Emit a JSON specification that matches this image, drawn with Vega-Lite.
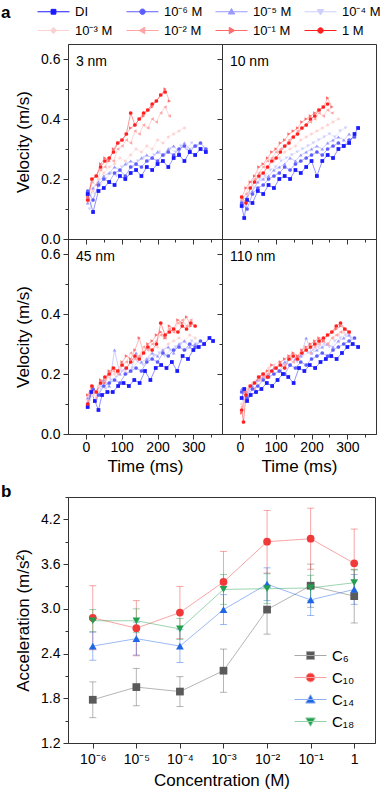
{
"$schema":"https://vega.github.io/schema/vega-lite/v6.json",
"background":"white",
"padding":{"left":0,"top":2,"right":0,"bottom":0},
"config":{"font":"Liberation Sans","view":{"stroke":"#333","strokeWidth":1},
"axis":{"grid":false,"domainColor":"#333","tickColor":"#333","labelColor":"#000","titleColor":"#000","labelFontSize":14,"titleFontSize":17,"titleFontWeight":"normal","tickSize":5},
"legend":{"labelColor":"#000"}},
"spacing":7,
"resolve":{"scale":{"color":"independent","shape":"independent","fill":"independent","stroke":"independent","x":"independent","y":"independent"}},
"datasets":{
"vel":[
{"n":"3 nm","s":"10⁻⁴ M","t":10,"v":0.10},{"n":"3 nm","s":"10⁻⁴ M","t":25,"v":0.15},{"n":"3 nm","s":"10⁻⁴ M","t":40,"v":0.18},{"n":"3 nm","s":"10⁻⁴ M","t":55,"v":0.20},{"n":"3 nm","s":"10⁻⁴ M","t":70,"v":0.22},{"n":"3 nm","s":"10⁻⁴ M","t":85,"v":0.21},{"n":"3 nm","s":"10⁻⁴ M","t":100,"v":0.24},{"n":"3 nm","s":"10⁻⁴ M","t":115,"v":0.25},{"n":"3 nm","s":"10⁻⁴ M","t":130,"v":0.24},{"n":"3 nm","s":"10⁻⁴ M","t":145,"v":0.26},{"n":"3 nm","s":"10⁻⁴ M","t":160,"v":0.27},{"n":"3 nm","s":"10⁻⁴ M","t":175,"v":0.26},{"n":"3 nm","s":"10⁻⁴ M","t":190,"v":0.28},{"n":"3 nm","s":"10⁻⁴ M","t":205,"v":0.29},{"n":"3 nm","s":"10⁻⁴ M","t":220,"v":0.28},{"n":"3 nm","s":"10⁻⁴ M","t":235,"v":0.30},{"n":"3 nm","s":"10⁻⁴ M","t":250,"v":0.29},{"n":"3 nm","s":"10⁻⁴ M","t":265,"v":0.31},{"n":"3 nm","s":"10⁻⁴ M","t":280,"v":0.30},{"n":"3 nm","s":"10⁻⁴ M","t":295,"v":0.32},{"n":"3 nm","s":"10⁻⁴ M","t":310,"v":0.31},{"n":"3 nm","s":"10⁻⁴ M","t":325,"v":0.30},
{"n":"3 nm","s":"10⁻³ M","t":5,"v":0.12},{"n":"3 nm","s":"10⁻³ M","t":20,"v":0.16},{"n":"3 nm","s":"10⁻³ M","t":35,"v":0.20},{"n":"3 nm","s":"10⁻³ M","t":50,"v":0.22},{"n":"3 nm","s":"10⁻³ M","t":65,"v":0.24},{"n":"3 nm","s":"10⁻³ M","t":80,"v":0.25},{"n":"3 nm","s":"10⁻³ M","t":95,"v":0.27},{"n":"3 nm","s":"10⁻³ M","t":110,"v":0.26},{"n":"3 nm","s":"10⁻³ M","t":125,"v":0.28},{"n":"3 nm","s":"10⁻³ M","t":140,"v":0.30},{"n":"3 nm","s":"10⁻³ M","t":155,"v":0.29},{"n":"3 nm","s":"10⁻³ M","t":170,"v":0.31},{"n":"3 nm","s":"10⁻³ M","t":185,"v":0.30},{"n":"3 nm","s":"10⁻³ M","t":200,"v":0.33},{"n":"3 nm","s":"10⁻³ M","t":215,"v":0.32},{"n":"3 nm","s":"10⁻³ M","t":230,"v":0.34},{"n":"3 nm","s":"10⁻³ M","t":245,"v":0.35},{"n":"3 nm","s":"10⁻³ M","t":260,"v":0.36},{"n":"3 nm","s":"10⁻³ M","t":275,"v":0.37},
{"n":"3 nm","s":"10⁻⁵ M","t":5,"v":0.12},{"n":"3 nm","s":"10⁻⁵ M","t":20,"v":0.17},{"n":"3 nm","s":"10⁻⁵ M","t":35,"v":0.19},{"n":"3 nm","s":"10⁻⁵ M","t":50,"v":0.21},{"n":"3 nm","s":"10⁻⁵ M","t":65,"v":0.22},{"n":"3 nm","s":"10⁻⁵ M","t":80,"v":0.24},{"n":"3 nm","s":"10⁻⁵ M","t":95,"v":0.23},{"n":"3 nm","s":"10⁻⁵ M","t":110,"v":0.25},{"n":"3 nm","s":"10⁻⁵ M","t":125,"v":0.26},{"n":"3 nm","s":"10⁻⁵ M","t":140,"v":0.25},{"n":"3 nm","s":"10⁻⁵ M","t":155,"v":0.27},{"n":"3 nm","s":"10⁻⁵ M","t":170,"v":0.28},{"n":"3 nm","s":"10⁻⁵ M","t":185,"v":0.27},{"n":"3 nm","s":"10⁻⁵ M","t":200,"v":0.29},{"n":"3 nm","s":"10⁻⁵ M","t":215,"v":0.28},{"n":"3 nm","s":"10⁻⁵ M","t":230,"v":0.30},{"n":"3 nm","s":"10⁻⁵ M","t":245,"v":0.31},{"n":"3 nm","s":"10⁻⁵ M","t":260,"v":0.29},{"n":"3 nm","s":"10⁻⁵ M","t":275,"v":0.32},{"n":"3 nm","s":"10⁻⁵ M","t":290,"v":0.30},{"n":"3 nm","s":"10⁻⁵ M","t":305,"v":0.31},
{"n":"3 nm","s":"10⁻² M","t":5,"v":0.13},{"n":"3 nm","s":"10⁻² M","t":17,"v":0.19},{"n":"3 nm","s":"10⁻² M","t":29,"v":0.18},{"n":"3 nm","s":"10⁻² M","t":41,"v":0.23},{"n":"3 nm","s":"10⁻² M","t":53,"v":0.24},{"n":"3 nm","s":"10⁻² M","t":65,"v":0.27},{"n":"3 nm","s":"10⁻² M","t":77,"v":0.26},{"n":"3 nm","s":"10⁻² M","t":89,"v":0.30},{"n":"3 nm","s":"10⁻² M","t":101,"v":0.31},{"n":"3 nm","s":"10⁻² M","t":113,"v":0.33},{"n":"3 nm","s":"10⁻² M","t":125,"v":0.32},{"n":"3 nm","s":"10⁻² M","t":137,"v":0.36},{"n":"3 nm","s":"10⁻² M","t":149,"v":0.35},{"n":"3 nm","s":"10⁻² M","t":161,"v":0.38},{"n":"3 nm","s":"10⁻² M","t":173,"v":0.37},{"n":"3 nm","s":"10⁻² M","t":185,"v":0.40},{"n":"3 nm","s":"10⁻² M","t":197,"v":0.39},{"n":"3 nm","s":"10⁻² M","t":209,"v":0.42},{"n":"3 nm","s":"10⁻² M","t":221,"v":0.44},{"n":"3 nm","s":"10⁻² M","t":233,"v":0.41},
{"n":"3 nm","s":"10⁻⁶ M","t":5,"v":0.16},{"n":"3 nm","s":"10⁻⁶ M","t":20,"v":0.13},{"n":"3 nm","s":"10⁻⁶ M","t":35,"v":0.18},{"n":"3 nm","s":"10⁻⁶ M","t":50,"v":0.20},{"n":"3 nm","s":"10⁻⁶ M","t":65,"v":0.19},{"n":"3 nm","s":"10⁻⁶ M","t":80,"v":0.22},{"n":"3 nm","s":"10⁻⁶ M","t":95,"v":0.23},{"n":"3 nm","s":"10⁻⁶ M","t":110,"v":0.21},{"n":"3 nm","s":"10⁻⁶ M","t":125,"v":0.24},{"n":"3 nm","s":"10⁻⁶ M","t":140,"v":0.25},{"n":"3 nm","s":"10⁻⁶ M","t":155,"v":0.24},{"n":"3 nm","s":"10⁻⁶ M","t":170,"v":0.26},{"n":"3 nm","s":"10⁻⁶ M","t":185,"v":0.27},{"n":"3 nm","s":"10⁻⁶ M","t":200,"v":0.26},{"n":"3 nm","s":"10⁻⁶ M","t":215,"v":0.28},{"n":"3 nm","s":"10⁻⁶ M","t":230,"v":0.29},{"n":"3 nm","s":"10⁻⁶ M","t":245,"v":0.28},{"n":"3 nm","s":"10⁻⁶ M","t":260,"v":0.30},{"n":"3 nm","s":"10⁻⁶ M","t":275,"v":0.31},{"n":"3 nm","s":"10⁻⁶ M","t":290,"v":0.29},{"n":"3 nm","s":"10⁻⁶ M","t":305,"v":0.31},{"n":"3 nm","s":"10⁻⁶ M","t":320,"v":0.32},{"n":"3 nm","s":"10⁻⁶ M","t":335,"v":0.30},
{"n":"3 nm","s":"10⁻¹ M","t":5,"v":0.14},{"n":"3 nm","s":"10⁻¹ M","t":17,"v":0.20},{"n":"3 nm","s":"10⁻¹ M","t":29,"v":0.21},{"n":"3 nm","s":"10⁻¹ M","t":41,"v":0.25},{"n":"3 nm","s":"10⁻¹ M","t":53,"v":0.27},{"n":"3 nm","s":"10⁻¹ M","t":65,"v":0.26},{"n":"3 nm","s":"10⁻¹ M","t":77,"v":0.30},{"n":"3 nm","s":"10⁻¹ M","t":89,"v":0.32},{"n":"3 nm","s":"10⁻¹ M","t":101,"v":0.33},{"n":"3 nm","s":"10⁻¹ M","t":113,"v":0.35},{"n":"3 nm","s":"10⁻¹ M","t":125,"v":0.37},{"n":"3 nm","s":"10⁻¹ M","t":137,"v":0.38},{"n":"3 nm","s":"10⁻¹ M","t":149,"v":0.40},{"n":"3 nm","s":"10⁻¹ M","t":161,"v":0.41},{"n":"3 nm","s":"10⁻¹ M","t":173,"v":0.43},{"n":"3 nm","s":"10⁻¹ M","t":185,"v":0.44},{"n":"3 nm","s":"10⁻¹ M","t":197,"v":0.46},{"n":"3 nm","s":"10⁻¹ M","t":209,"v":0.48},{"n":"3 nm","s":"10⁻¹ M","t":221,"v":0.50},{"n":"3 nm","s":"10⁻¹ M","t":233,"v":0.46},
{"n":"3 nm","s":"DI","t":5,"v":0.15},{"n":"3 nm","s":"DI","t":20,"v":0.09},{"n":"3 nm","s":"DI","t":35,"v":0.16},{"n":"3 nm","s":"DI","t":50,"v":0.17},{"n":"3 nm","s":"DI","t":65,"v":0.19},{"n":"3 nm","s":"DI","t":80,"v":0.18},{"n":"3 nm","s":"DI","t":95,"v":0.21},{"n":"3 nm","s":"DI","t":110,"v":0.20},{"n":"3 nm","s":"DI","t":125,"v":0.22},{"n":"3 nm","s":"DI","t":140,"v":0.23},{"n":"3 nm","s":"DI","t":155,"v":0.21},{"n":"3 nm","s":"DI","t":170,"v":0.24},{"n":"3 nm","s":"DI","t":185,"v":0.23},{"n":"3 nm","s":"DI","t":200,"v":0.25},{"n":"3 nm","s":"DI","t":215,"v":0.26},{"n":"3 nm","s":"DI","t":230,"v":0.24},{"n":"3 nm","s":"DI","t":245,"v":0.27},{"n":"3 nm","s":"DI","t":260,"v":0.28},{"n":"3 nm","s":"DI","t":275,"v":0.26},{"n":"3 nm","s":"DI","t":290,"v":0.29},{"n":"3 nm","s":"DI","t":305,"v":0.28},{"n":"3 nm","s":"DI","t":320,"v":0.30},{"n":"3 nm","s":"DI","t":335,"v":0.29},
{"n":"3 nm","s":"1 M","t":5,"v":0.13},{"n":"3 nm","s":"1 M","t":17,"v":0.20},{"n":"3 nm","s":"1 M","t":29,"v":0.21},{"n":"3 nm","s":"1 M","t":41,"v":0.24},{"n":"3 nm","s":"1 M","t":53,"v":0.26},{"n":"3 nm","s":"1 M","t":65,"v":0.27},{"n":"3 nm","s":"1 M","t":77,"v":0.29},{"n":"3 nm","s":"1 M","t":89,"v":0.32},{"n":"3 nm","s":"1 M","t":101,"v":0.33},{"n":"3 nm","s":"1 M","t":113,"v":0.35},{"n":"3 nm","s":"1 M","t":125,"v":0.42},{"n":"3 nm","s":"1 M","t":137,"v":0.38},{"n":"3 nm","s":"1 M","t":149,"v":0.40},{"n":"3 nm","s":"1 M","t":161,"v":0.42},{"n":"3 nm","s":"1 M","t":173,"v":0.43},{"n":"3 nm","s":"1 M","t":185,"v":0.45},{"n":"3 nm","s":"1 M","t":197,"v":0.46},{"n":"3 nm","s":"1 M","t":209,"v":0.48},{"n":"3 nm","s":"1 M","t":221,"v":0.49},

{"n":"10 nm","s":"10⁻⁴ M","t":10,"v":0.12},{"n":"10 nm","s":"10⁻⁴ M","t":25,"v":0.15},{"n":"10 nm","s":"10⁻⁴ M","t":40,"v":0.17},{"n":"10 nm","s":"10⁻⁴ M","t":55,"v":0.20},{"n":"10 nm","s":"10⁻⁴ M","t":70,"v":0.21},{"n":"10 nm","s":"10⁻⁴ M","t":85,"v":0.23},{"n":"10 nm","s":"10⁻⁴ M","t":100,"v":0.24},{"n":"10 nm","s":"10⁻⁴ M","t":115,"v":0.26},{"n":"10 nm","s":"10⁻⁴ M","t":130,"v":0.27},{"n":"10 nm","s":"10⁻⁴ M","t":145,"v":0.28},{"n":"10 nm","s":"10⁻⁴ M","t":160,"v":0.29},{"n":"10 nm","s":"10⁻⁴ M","t":175,"v":0.30},{"n":"10 nm","s":"10⁻⁴ M","t":190,"v":0.31},{"n":"10 nm","s":"10⁻⁴ M","t":205,"v":0.32},{"n":"10 nm","s":"10⁻⁴ M","t":220,"v":0.33},{"n":"10 nm","s":"10⁻⁴ M","t":235,"v":0.34},{"n":"10 nm","s":"10⁻⁴ M","t":250,"v":0.35},{"n":"10 nm","s":"10⁻⁴ M","t":265,"v":0.34},{"n":"10 nm","s":"10⁻⁴ M","t":280,"v":0.36},{"n":"10 nm","s":"10⁻⁴ M","t":295,"v":0.37},
{"n":"10 nm","s":"10⁻³ M","t":5,"v":0.13},{"n":"10 nm","s":"10⁻³ M","t":20,"v":0.15},{"n":"10 nm","s":"10⁻³ M","t":35,"v":0.18},{"n":"10 nm","s":"10⁻³ M","t":50,"v":0.21},{"n":"10 nm","s":"10⁻³ M","t":65,"v":0.22},{"n":"10 nm","s":"10⁻³ M","t":80,"v":0.24},{"n":"10 nm","s":"10⁻³ M","t":95,"v":0.26},{"n":"10 nm","s":"10⁻³ M","t":110,"v":0.27},{"n":"10 nm","s":"10⁻³ M","t":125,"v":0.29},{"n":"10 nm","s":"10⁻³ M","t":140,"v":0.30},{"n":"10 nm","s":"10⁻³ M","t":155,"v":0.31},{"n":"10 nm","s":"10⁻³ M","t":170,"v":0.33},{"n":"10 nm","s":"10⁻³ M","t":185,"v":0.34},{"n":"10 nm","s":"10⁻³ M","t":200,"v":0.35},{"n":"10 nm","s":"10⁻³ M","t":215,"v":0.36},{"n":"10 nm","s":"10⁻³ M","t":230,"v":0.37},{"n":"10 nm","s":"10⁻³ M","t":245,"v":0.38},{"n":"10 nm","s":"10⁻³ M","t":260,"v":0.39},{"n":"10 nm","s":"10⁻³ M","t":275,"v":0.40},
{"n":"10 nm","s":"10⁻⁵ M","t":5,"v":0.13},{"n":"10 nm","s":"10⁻⁵ M","t":20,"v":0.14},{"n":"10 nm","s":"10⁻⁵ M","t":35,"v":0.16},{"n":"10 nm","s":"10⁻⁵ M","t":50,"v":0.19},{"n":"10 nm","s":"10⁻⁵ M","t":65,"v":0.20},{"n":"10 nm","s":"10⁻⁵ M","t":80,"v":0.21},{"n":"10 nm","s":"10⁻⁵ M","t":95,"v":0.23},{"n":"10 nm","s":"10⁻⁵ M","t":110,"v":0.24},{"n":"10 nm","s":"10⁻⁵ M","t":125,"v":0.25},{"n":"10 nm","s":"10⁻⁵ M","t":140,"v":0.27},{"n":"10 nm","s":"10⁻⁵ M","t":155,"v":0.26},{"n":"10 nm","s":"10⁻⁵ M","t":170,"v":0.28},{"n":"10 nm","s":"10⁻⁵ M","t":185,"v":0.29},{"n":"10 nm","s":"10⁻⁵ M","t":200,"v":0.30},{"n":"10 nm","s":"10⁻⁵ M","t":215,"v":0.31},{"n":"10 nm","s":"10⁻⁵ M","t":230,"v":0.30},{"n":"10 nm","s":"10⁻⁵ M","t":245,"v":0.32},{"n":"10 nm","s":"10⁻⁵ M","t":260,"v":0.33},{"n":"10 nm","s":"10⁻⁵ M","t":275,"v":0.34},{"n":"10 nm","s":"10⁻⁵ M","t":290,"v":0.33},{"n":"10 nm","s":"10⁻⁵ M","t":305,"v":0.35},
{"n":"10 nm","s":"10⁻² M","t":5,"v":0.13},{"n":"10 nm","s":"10⁻² M","t":17,"v":0.15},{"n":"10 nm","s":"10⁻² M","t":29,"v":0.19},{"n":"10 nm","s":"10⁻² M","t":41,"v":0.20},{"n":"10 nm","s":"10⁻² M","t":53,"v":0.22},{"n":"10 nm","s":"10⁻² M","t":65,"v":0.24},{"n":"10 nm","s":"10⁻² M","t":77,"v":0.26},{"n":"10 nm","s":"10⁻² M","t":89,"v":0.27},{"n":"10 nm","s":"10⁻² M","t":101,"v":0.29},{"n":"10 nm","s":"10⁻² M","t":113,"v":0.30},{"n":"10 nm","s":"10⁻² M","t":125,"v":0.31},{"n":"10 nm","s":"10⁻² M","t":137,"v":0.33},{"n":"10 nm","s":"10⁻² M","t":149,"v":0.34},{"n":"10 nm","s":"10⁻² M","t":161,"v":0.36},{"n":"10 nm","s":"10⁻² M","t":173,"v":0.37},{"n":"10 nm","s":"10⁻² M","t":185,"v":0.38},{"n":"10 nm","s":"10⁻² M","t":197,"v":0.39},{"n":"10 nm","s":"10⁻² M","t":209,"v":0.40},{"n":"10 nm","s":"10⁻² M","t":221,"v":0.42},{"n":"10 nm","s":"10⁻² M","t":233,"v":0.41},{"n":"10 nm","s":"10⁻² M","t":245,"v":0.43},{"n":"10 nm","s":"10⁻² M","t":257,"v":0.42},
{"n":"10 nm","s":"10⁻⁶ M","t":5,"v":0.12},{"n":"10 nm","s":"10⁻⁶ M","t":20,"v":0.10},{"n":"10 nm","s":"10⁻⁶ M","t":35,"v":0.15},{"n":"10 nm","s":"10⁻⁶ M","t":50,"v":0.17},{"n":"10 nm","s":"10⁻⁶ M","t":65,"v":0.18},{"n":"10 nm","s":"10⁻⁶ M","t":80,"v":0.20},{"n":"10 nm","s":"10⁻⁶ M","t":95,"v":0.21},{"n":"10 nm","s":"10⁻⁶ M","t":110,"v":0.22},{"n":"10 nm","s":"10⁻⁶ M","t":125,"v":0.24},{"n":"10 nm","s":"10⁻⁶ M","t":140,"v":0.23},{"n":"10 nm","s":"10⁻⁶ M","t":155,"v":0.25},{"n":"10 nm","s":"10⁻⁶ M","t":170,"v":0.26},{"n":"10 nm","s":"10⁻⁶ M","t":185,"v":0.27},{"n":"10 nm","s":"10⁻⁶ M","t":200,"v":0.28},{"n":"10 nm","s":"10⁻⁶ M","t":215,"v":0.29},{"n":"10 nm","s":"10⁻⁶ M","t":230,"v":0.28},{"n":"10 nm","s":"10⁻⁶ M","t":245,"v":0.30},{"n":"10 nm","s":"10⁻⁶ M","t":260,"v":0.31},{"n":"10 nm","s":"10⁻⁶ M","t":275,"v":0.32},{"n":"10 nm","s":"10⁻⁶ M","t":290,"v":0.31},{"n":"10 nm","s":"10⁻⁶ M","t":305,"v":0.33},{"n":"10 nm","s":"10⁻⁶ M","t":320,"v":0.34},
{"n":"10 nm","s":"10⁻¹ M","t":5,"v":0.14},{"n":"10 nm","s":"10⁻¹ M","t":17,"v":0.17},{"n":"10 nm","s":"10⁻¹ M","t":29,"v":0.19},{"n":"10 nm","s":"10⁻¹ M","t":41,"v":0.21},{"n":"10 nm","s":"10⁻¹ M","t":53,"v":0.24},{"n":"10 nm","s":"10⁻¹ M","t":65,"v":0.25},{"n":"10 nm","s":"10⁻¹ M","t":77,"v":0.27},{"n":"10 nm","s":"10⁻¹ M","t":89,"v":0.29},{"n":"10 nm","s":"10⁻¹ M","t":101,"v":0.30},{"n":"10 nm","s":"10⁻¹ M","t":113,"v":0.32},{"n":"10 nm","s":"10⁻¹ M","t":125,"v":0.33},{"n":"10 nm","s":"10⁻¹ M","t":137,"v":0.35},{"n":"10 nm","s":"10⁻¹ M","t":149,"v":0.36},{"n":"10 nm","s":"10⁻¹ M","t":161,"v":0.37},{"n":"10 nm","s":"10⁻¹ M","t":173,"v":0.39},{"n":"10 nm","s":"10⁻¹ M","t":185,"v":0.40},{"n":"10 nm","s":"10⁻¹ M","t":197,"v":0.41},{"n":"10 nm","s":"10⁻¹ M","t":209,"v":0.42},{"n":"10 nm","s":"10⁻¹ M","t":221,"v":0.43},{"n":"10 nm","s":"10⁻¹ M","t":233,"v":0.44},{"n":"10 nm","s":"10⁻¹ M","t":245,"v":0.47},{"n":"10 nm","s":"10⁻¹ M","t":257,"v":0.44},
{"n":"10 nm","s":"DI","t":5,"v":0.11},{"n":"10 nm","s":"DI","t":12,"v":0.07},{"n":"10 nm","s":"DI","t":20,"v":0.13},{"n":"10 nm","s":"DI","t":35,"v":0.12},{"n":"10 nm","s":"DI","t":50,"v":0.16},{"n":"10 nm","s":"DI","t":65,"v":0.15},{"n":"10 nm","s":"DI","t":80,"v":0.18},{"n":"10 nm","s":"DI","t":95,"v":0.17},{"n":"10 nm","s":"DI","t":110,"v":0.20},{"n":"10 nm","s":"DI","t":125,"v":0.21},{"n":"10 nm","s":"DI","t":140,"v":0.20},{"n":"10 nm","s":"DI","t":155,"v":0.23},{"n":"10 nm","s":"DI","t":170,"v":0.22},{"n":"10 nm","s":"DI","t":185,"v":0.24},{"n":"10 nm","s":"DI","t":200,"v":0.26},{"n":"10 nm","s":"DI","t":215,"v":0.21},{"n":"10 nm","s":"DI","t":230,"v":0.26},{"n":"10 nm","s":"DI","t":245,"v":0.28},{"n":"10 nm","s":"DI","t":260,"v":0.27},{"n":"10 nm","s":"DI","t":275,"v":0.30},{"n":"10 nm","s":"DI","t":290,"v":0.31},{"n":"10 nm","s":"DI","t":305,"v":0.32},{"n":"10 nm","s":"DI","t":320,"v":0.35},{"n":"10 nm","s":"DI","t":330,"v":0.37},
{"n":"10 nm","s":"1 M","t":5,"v":0.14},{"n":"10 nm","s":"1 M","t":17,"v":0.12},{"n":"10 nm","s":"1 M","t":29,"v":0.17},{"n":"10 nm","s":"1 M","t":41,"v":0.19},{"n":"10 nm","s":"1 M","t":53,"v":0.21},{"n":"10 nm","s":"1 M","t":65,"v":0.22},{"n":"10 nm","s":"1 M","t":77,"v":0.24},{"n":"10 nm","s":"1 M","t":89,"v":0.26},{"n":"10 nm","s":"1 M","t":101,"v":0.27},{"n":"10 nm","s":"1 M","t":113,"v":0.29},{"n":"10 nm","s":"1 M","t":125,"v":0.31},{"n":"10 nm","s":"1 M","t":137,"v":0.32},{"n":"10 nm","s":"1 M","t":149,"v":0.34},{"n":"10 nm","s":"1 M","t":161,"v":0.35},{"n":"10 nm","s":"1 M","t":173,"v":0.37},{"n":"10 nm","s":"1 M","t":185,"v":0.38},{"n":"10 nm","s":"1 M","t":197,"v":0.40},{"n":"10 nm","s":"1 M","t":209,"v":0.41},{"n":"10 nm","s":"1 M","t":221,"v":0.43},{"n":"10 nm","s":"1 M","t":233,"v":0.44},{"n":"10 nm","s":"1 M","t":245,"v":0.45},

{"n":"45 nm","s":"10⁻⁴ M","t":10,"v":0.11},{"n":"45 nm","s":"10⁻⁴ M","t":25,"v":0.14},{"n":"45 nm","s":"10⁻⁴ M","t":40,"v":0.16},{"n":"45 nm","s":"10⁻⁴ M","t":55,"v":0.15},{"n":"45 nm","s":"10⁻⁴ M","t":70,"v":0.18},{"n":"45 nm","s":"10⁻⁴ M","t":85,"v":0.19},{"n":"45 nm","s":"10⁻⁴ M","t":100,"v":0.21},{"n":"45 nm","s":"10⁻⁴ M","t":115,"v":0.20},{"n":"45 nm","s":"10⁻⁴ M","t":130,"v":0.22},{"n":"45 nm","s":"10⁻⁴ M","t":145,"v":0.24},{"n":"45 nm","s":"10⁻⁴ M","t":160,"v":0.23},{"n":"45 nm","s":"10⁻⁴ M","t":175,"v":0.25},{"n":"45 nm","s":"10⁻⁴ M","t":190,"v":0.26},{"n":"45 nm","s":"10⁻⁴ M","t":205,"v":0.27},{"n":"45 nm","s":"10⁻⁴ M","t":220,"v":0.26},{"n":"45 nm","s":"10⁻⁴ M","t":235,"v":0.28},{"n":"45 nm","s":"10⁻⁴ M","t":250,"v":0.29},{"n":"45 nm","s":"10⁻⁴ M","t":265,"v":0.30},{"n":"45 nm","s":"10⁻⁴ M","t":280,"v":0.28},{"n":"45 nm","s":"10⁻⁴ M","t":295,"v":0.31},{"n":"45 nm","s":"10⁻⁴ M","t":310,"v":0.30},
{"n":"45 nm","s":"10⁻³ M","t":5,"v":0.12},{"n":"45 nm","s":"10⁻³ M","t":20,"v":0.13},{"n":"45 nm","s":"10⁻³ M","t":35,"v":0.16},{"n":"45 nm","s":"10⁻³ M","t":50,"v":0.17},{"n":"45 nm","s":"10⁻³ M","t":65,"v":0.19},{"n":"45 nm","s":"10⁻³ M","t":80,"v":0.20},{"n":"45 nm","s":"10⁻³ M","t":95,"v":0.22},{"n":"45 nm","s":"10⁻³ M","t":110,"v":0.21},{"n":"45 nm","s":"10⁻³ M","t":125,"v":0.24},{"n":"45 nm","s":"10⁻³ M","t":140,"v":0.25},{"n":"45 nm","s":"10⁻³ M","t":155,"v":0.26},{"n":"45 nm","s":"10⁻³ M","t":170,"v":0.25},{"n":"45 nm","s":"10⁻³ M","t":185,"v":0.28},{"n":"45 nm","s":"10⁻³ M","t":200,"v":0.29},{"n":"45 nm","s":"10⁻³ M","t":215,"v":0.28},{"n":"45 nm","s":"10⁻³ M","t":230,"v":0.30},{"n":"45 nm","s":"10⁻³ M","t":245,"v":0.31},{"n":"45 nm","s":"10⁻³ M","t":260,"v":0.32},{"n":"45 nm","s":"10⁻³ M","t":275,"v":0.31},{"n":"45 nm","s":"10⁻³ M","t":290,"v":0.33},{"n":"45 nm","s":"10⁻³ M","t":305,"v":0.32},
{"n":"45 nm","s":"10⁻⁵ M","t":5,"v":0.12},{"n":"45 nm","s":"10⁻⁵ M","t":20,"v":0.15},{"n":"45 nm","s":"10⁻⁵ M","t":35,"v":0.13},{"n":"45 nm","s":"10⁻⁵ M","t":50,"v":0.18},{"n":"45 nm","s":"10⁻⁵ M","t":65,"v":0.16},{"n":"45 nm","s":"10⁻⁵ M","t":80,"v":0.28},{"n":"45 nm","s":"10⁻⁵ M","t":95,"v":0.20},{"n":"45 nm","s":"10⁻⁵ M","t":110,"v":0.22},{"n":"45 nm","s":"10⁻⁵ M","t":125,"v":0.21},{"n":"45 nm","s":"10⁻⁵ M","t":140,"v":0.27},{"n":"45 nm","s":"10⁻⁵ M","t":155,"v":0.24},{"n":"45 nm","s":"10⁻⁵ M","t":170,"v":0.25},{"n":"45 nm","s":"10⁻⁵ M","t":185,"v":0.27},{"n":"45 nm","s":"10⁻⁵ M","t":200,"v":0.26},{"n":"45 nm","s":"10⁻⁵ M","t":215,"v":0.28},{"n":"45 nm","s":"10⁻⁵ M","t":230,"v":0.29},{"n":"45 nm","s":"10⁻⁵ M","t":245,"v":0.27},{"n":"45 nm","s":"10⁻⁵ M","t":260,"v":0.30},{"n":"45 nm","s":"10⁻⁵ M","t":275,"v":0.31},{"n":"45 nm","s":"10⁻⁵ M","t":290,"v":0.29},{"n":"45 nm","s":"10⁻⁵ M","t":305,"v":0.30},
{"n":"45 nm","s":"10⁻² M","t":5,"v":0.11},{"n":"45 nm","s":"10⁻² M","t":17,"v":0.15},{"n":"45 nm","s":"10⁻² M","t":29,"v":0.12},{"n":"45 nm","s":"10⁻² M","t":41,"v":0.17},{"n":"45 nm","s":"10⁻² M","t":53,"v":0.18},{"n":"45 nm","s":"10⁻² M","t":65,"v":0.20},{"n":"45 nm","s":"10⁻² M","t":77,"v":0.21},{"n":"45 nm","s":"10⁻² M","t":89,"v":0.20},{"n":"45 nm","s":"10⁻² M","t":101,"v":0.23},{"n":"45 nm","s":"10⁻² M","t":113,"v":0.24},{"n":"45 nm","s":"10⁻² M","t":125,"v":0.27},{"n":"45 nm","s":"10⁻² M","t":137,"v":0.25},{"n":"45 nm","s":"10⁻² M","t":149,"v":0.26},{"n":"45 nm","s":"10⁻² M","t":161,"v":0.29},{"n":"45 nm","s":"10⁻² M","t":173,"v":0.28},{"n":"45 nm","s":"10⁻² M","t":185,"v":0.30},{"n":"45 nm","s":"10⁻² M","t":197,"v":0.31},{"n":"45 nm","s":"10⁻² M","t":209,"v":0.33},{"n":"45 nm","s":"10⁻² M","t":221,"v":0.32},{"n":"45 nm","s":"10⁻² M","t":233,"v":0.35},{"n":"45 nm","s":"10⁻² M","t":245,"v":0.34},{"n":"45 nm","s":"10⁻² M","t":257,"v":0.37},{"n":"45 nm","s":"10⁻² M","t":269,"v":0.38},{"n":"45 nm","s":"10⁻² M","t":281,"v":0.36},{"n":"45 nm","s":"10⁻² M","t":293,"v":0.38},
{"n":"45 nm","s":"10⁻⁶ M","t":5,"v":0.10},{"n":"45 nm","s":"10⁻⁶ M","t":20,"v":0.15},{"n":"45 nm","s":"10⁻⁶ M","t":35,"v":0.13},{"n":"45 nm","s":"10⁻⁶ M","t":50,"v":0.16},{"n":"45 nm","s":"10⁻⁶ M","t":65,"v":0.17},{"n":"45 nm","s":"10⁻⁶ M","t":80,"v":0.18},{"n":"45 nm","s":"10⁻⁶ M","t":95,"v":0.17},{"n":"45 nm","s":"10⁻⁶ M","t":110,"v":0.20},{"n":"45 nm","s":"10⁻⁶ M","t":125,"v":0.21},{"n":"45 nm","s":"10⁻⁶ M","t":140,"v":0.22},{"n":"45 nm","s":"10⁻⁶ M","t":155,"v":0.21},{"n":"45 nm","s":"10⁻⁶ M","t":170,"v":0.24},{"n":"45 nm","s":"10⁻⁶ M","t":185,"v":0.25},{"n":"45 nm","s":"10⁻⁶ M","t":200,"v":0.24},{"n":"45 nm","s":"10⁻⁶ M","t":215,"v":0.27},{"n":"45 nm","s":"10⁻⁶ M","t":230,"v":0.26},{"n":"45 nm","s":"10⁻⁶ M","t":245,"v":0.28},{"n":"45 nm","s":"10⁻⁶ M","t":260,"v":0.29},{"n":"45 nm","s":"10⁻⁶ M","t":275,"v":0.28},{"n":"45 nm","s":"10⁻⁶ M","t":290,"v":0.30},{"n":"45 nm","s":"10⁻⁶ M","t":305,"v":0.29},{"n":"45 nm","s":"10⁻⁶ M","t":320,"v":0.31},
{"n":"45 nm","s":"10⁻¹ M","t":5,"v":0.13},{"n":"45 nm","s":"10⁻¹ M","t":17,"v":0.16},{"n":"45 nm","s":"10⁻¹ M","t":29,"v":0.14},{"n":"45 nm","s":"10⁻¹ M","t":41,"v":0.18},{"n":"45 nm","s":"10⁻¹ M","t":53,"v":0.17},{"n":"45 nm","s":"10⁻¹ M","t":65,"v":0.21},{"n":"45 nm","s":"10⁻¹ M","t":77,"v":0.22},{"n":"45 nm","s":"10⁻¹ M","t":89,"v":0.21},{"n":"45 nm","s":"10⁻¹ M","t":101,"v":0.24},{"n":"45 nm","s":"10⁻¹ M","t":113,"v":0.26},{"n":"45 nm","s":"10⁻¹ M","t":125,"v":0.25},{"n":"45 nm","s":"10⁻¹ M","t":137,"v":0.28},{"n":"45 nm","s":"10⁻¹ M","t":149,"v":0.32},{"n":"45 nm","s":"10⁻¹ M","t":161,"v":0.27},{"n":"45 nm","s":"10⁻¹ M","t":173,"v":0.30},{"n":"45 nm","s":"10⁻¹ M","t":185,"v":0.31},{"n":"45 nm","s":"10⁻¹ M","t":197,"v":0.33},{"n":"45 nm","s":"10⁻¹ M","t":209,"v":0.34},{"n":"45 nm","s":"10⁻¹ M","t":221,"v":0.32},{"n":"45 nm","s":"10⁻¹ M","t":233,"v":0.36},{"n":"45 nm","s":"10⁻¹ M","t":245,"v":0.35},{"n":"45 nm","s":"10⁻¹ M","t":257,"v":0.38},{"n":"45 nm","s":"10⁻¹ M","t":269,"v":0.37},{"n":"45 nm","s":"10⁻¹ M","t":281,"v":0.39},{"n":"45 nm","s":"10⁻¹ M","t":293,"v":0.36},
{"n":"45 nm","s":"DI","t":5,"v":0.09},{"n":"45 nm","s":"DI","t":15,"v":0.14},{"n":"45 nm","s":"DI","t":25,"v":0.11},{"n":"45 nm","s":"DI","t":35,"v":0.08},{"n":"45 nm","s":"DI","t":45,"v":0.13},{"n":"45 nm","s":"DI","t":60,"v":0.14},{"n":"45 nm","s":"DI","t":75,"v":0.14},{"n":"45 nm","s":"DI","t":90,"v":0.16},{"n":"45 nm","s":"DI","t":105,"v":0.17},{"n":"45 nm","s":"DI","t":120,"v":0.16},{"n":"45 nm","s":"DI","t":135,"v":0.18},{"n":"45 nm","s":"DI","t":150,"v":0.17},{"n":"45 nm","s":"DI","t":165,"v":0.21},{"n":"45 nm","s":"DI","t":180,"v":0.18},{"n":"45 nm","s":"DI","t":195,"v":0.22},{"n":"45 nm","s":"DI","t":210,"v":0.23},{"n":"45 nm","s":"DI","t":225,"v":0.22},{"n":"45 nm","s":"DI","t":240,"v":0.24},{"n":"45 nm","s":"DI","t":255,"v":0.21},{"n":"45 nm","s":"DI","t":270,"v":0.26},{"n":"45 nm","s":"DI","t":285,"v":0.25},{"n":"45 nm","s":"DI","t":300,"v":0.28},{"n":"45 nm","s":"DI","t":315,"v":0.29},{"n":"45 nm","s":"DI","t":330,"v":0.30},{"n":"45 nm","s":"DI","t":345,"v":0.32},{"n":"45 nm","s":"DI","t":355,"v":0.31},
{"n":"45 nm","s":"1 M","t":5,"v":0.10},{"n":"45 nm","s":"1 M","t":17,"v":0.16},{"n":"45 nm","s":"1 M","t":29,"v":0.14},{"n":"45 nm","s":"1 M","t":41,"v":0.17},{"n":"45 nm","s":"1 M","t":53,"v":0.19},{"n":"45 nm","s":"1 M","t":65,"v":0.20},{"n":"45 nm","s":"1 M","t":77,"v":0.22},{"n":"45 nm","s":"1 M","t":89,"v":0.21},{"n":"45 nm","s":"1 M","t":101,"v":0.23},{"n":"45 nm","s":"1 M","t":113,"v":0.22},{"n":"45 nm","s":"1 M","t":125,"v":0.24},{"n":"45 nm","s":"1 M","t":137,"v":0.26},{"n":"45 nm","s":"1 M","t":149,"v":0.25},{"n":"45 nm","s":"1 M","t":161,"v":0.27},{"n":"45 nm","s":"1 M","t":173,"v":0.29},{"n":"45 nm","s":"1 M","t":185,"v":0.28},{"n":"45 nm","s":"1 M","t":197,"v":0.30},{"n":"45 nm","s":"1 M","t":209,"v":0.37},{"n":"45 nm","s":"1 M","t":221,"v":0.33},{"n":"45 nm","s":"1 M","t":233,"v":0.34},{"n":"45 nm","s":"1 M","t":245,"v":0.35},{"n":"45 nm","s":"1 M","t":257,"v":0.34},{"n":"45 nm","s":"1 M","t":269,"v":0.36},{"n":"45 nm","s":"1 M","t":281,"v":0.35},{"n":"45 nm","s":"1 M","t":293,"v":0.37},{"n":"45 nm","s":"1 M","t":305,"v":0.36},

{"n":"110 nm","s":"10⁻⁴ M","t":10,"v":0.11},{"n":"110 nm","s":"10⁻⁴ M","t":25,"v":0.14},{"n":"110 nm","s":"10⁻⁴ M","t":40,"v":0.17},{"n":"110 nm","s":"10⁻⁴ M","t":55,"v":0.18},{"n":"110 nm","s":"10⁻⁴ M","t":70,"v":0.19},{"n":"110 nm","s":"10⁻⁴ M","t":85,"v":0.21},{"n":"110 nm","s":"10⁻⁴ M","t":100,"v":0.22},{"n":"110 nm","s":"10⁻⁴ M","t":115,"v":0.23},{"n":"110 nm","s":"10⁻⁴ M","t":130,"v":0.24},{"n":"110 nm","s":"10⁻⁴ M","t":145,"v":0.25},{"n":"110 nm","s":"10⁻⁴ M","t":160,"v":0.24},{"n":"110 nm","s":"10⁻⁴ M","t":175,"v":0.26},{"n":"110 nm","s":"10⁻⁴ M","t":190,"v":0.27},{"n":"110 nm","s":"10⁻⁴ M","t":205,"v":0.28},{"n":"110 nm","s":"10⁻⁴ M","t":220,"v":0.29},{"n":"110 nm","s":"10⁻⁴ M","t":235,"v":0.30},{"n":"110 nm","s":"10⁻⁴ M","t":250,"v":0.29},{"n":"110 nm","s":"10⁻⁴ M","t":265,"v":0.31},{"n":"110 nm","s":"10⁻⁴ M","t":280,"v":0.32},{"n":"110 nm","s":"10⁻⁴ M","t":295,"v":0.33},{"n":"110 nm","s":"10⁻⁴ M","t":310,"v":0.32},
{"n":"110 nm","s":"10⁻³ M","t":5,"v":0.10},{"n":"110 nm","s":"10⁻³ M","t":20,"v":0.15},{"n":"110 nm","s":"10⁻³ M","t":35,"v":0.17},{"n":"110 nm","s":"10⁻³ M","t":50,"v":0.19},{"n":"110 nm","s":"10⁻³ M","t":65,"v":0.20},{"n":"110 nm","s":"10⁻³ M","t":80,"v":0.22},{"n":"110 nm","s":"10⁻³ M","t":95,"v":0.23},{"n":"110 nm","s":"10⁻³ M","t":110,"v":0.24},{"n":"110 nm","s":"10⁻³ M","t":125,"v":0.23},{"n":"110 nm","s":"10⁻³ M","t":140,"v":0.26},{"n":"110 nm","s":"10⁻³ M","t":155,"v":0.25},{"n":"110 nm","s":"10⁻³ M","t":170,"v":0.27},{"n":"110 nm","s":"10⁻³ M","t":185,"v":0.28},{"n":"110 nm","s":"10⁻³ M","t":200,"v":0.29},{"n":"110 nm","s":"10⁻³ M","t":215,"v":0.30},{"n":"110 nm","s":"10⁻³ M","t":230,"v":0.31},{"n":"110 nm","s":"10⁻³ M","t":245,"v":0.30},{"n":"110 nm","s":"10⁻³ M","t":260,"v":0.32},{"n":"110 nm","s":"10⁻³ M","t":275,"v":0.33},{"n":"110 nm","s":"10⁻³ M","t":290,"v":0.34},{"n":"110 nm","s":"10⁻³ M","t":305,"v":0.33},
{"n":"110 nm","s":"10⁻⁵ M","t":5,"v":0.15},{"n":"110 nm","s":"10⁻⁵ M","t":20,"v":0.13},{"n":"110 nm","s":"10⁻⁵ M","t":35,"v":0.16},{"n":"110 nm","s":"10⁻⁵ M","t":50,"v":0.18},{"n":"110 nm","s":"10⁻⁵ M","t":65,"v":0.19},{"n":"110 nm","s":"10⁻⁵ M","t":80,"v":0.20},{"n":"110 nm","s":"10⁻⁵ M","t":95,"v":0.22},{"n":"110 nm","s":"10⁻⁵ M","t":110,"v":0.21},{"n":"110 nm","s":"10⁻⁵ M","t":125,"v":0.24},{"n":"110 nm","s":"10⁻⁵ M","t":140,"v":0.23},{"n":"110 nm","s":"10⁻⁵ M","t":155,"v":0.25},{"n":"110 nm","s":"10⁻⁵ M","t":170,"v":0.26},{"n":"110 nm","s":"10⁻⁵ M","t":185,"v":0.32},{"n":"110 nm","s":"10⁻⁵ M","t":200,"v":0.27},{"n":"110 nm","s":"10⁻⁵ M","t":215,"v":0.28},{"n":"110 nm","s":"10⁻⁵ M","t":230,"v":0.29},{"n":"110 nm","s":"10⁻⁵ M","t":245,"v":0.30},{"n":"110 nm","s":"10⁻⁵ M","t":260,"v":0.29},{"n":"110 nm","s":"10⁻⁵ M","t":275,"v":0.31},{"n":"110 nm","s":"10⁻⁵ M","t":290,"v":0.32},{"n":"110 nm","s":"10⁻⁵ M","t":305,"v":0.33},
{"n":"110 nm","s":"10⁻² M","t":5,"v":0.09},{"n":"110 nm","s":"10⁻² M","t":17,"v":0.12},{"n":"110 nm","s":"10⁻² M","t":29,"v":0.16},{"n":"110 nm","s":"10⁻² M","t":41,"v":0.15},{"n":"110 nm","s":"10⁻² M","t":53,"v":0.18},{"n":"110 nm","s":"10⁻² M","t":65,"v":0.19},{"n":"110 nm","s":"10⁻² M","t":77,"v":0.20},{"n":"110 nm","s":"10⁻² M","t":89,"v":0.21},{"n":"110 nm","s":"10⁻² M","t":101,"v":0.22},{"n":"110 nm","s":"10⁻² M","t":113,"v":0.21},{"n":"110 nm","s":"10⁻² M","t":125,"v":0.23},{"n":"110 nm","s":"10⁻² M","t":137,"v":0.25},{"n":"110 nm","s":"10⁻² M","t":149,"v":0.24},{"n":"110 nm","s":"10⁻² M","t":161,"v":0.26},{"n":"110 nm","s":"10⁻² M","t":173,"v":0.27},{"n":"110 nm","s":"10⁻² M","t":185,"v":0.28},{"n":"110 nm","s":"10⁻² M","t":197,"v":0.27},{"n":"110 nm","s":"10⁻² M","t":209,"v":0.29},{"n":"110 nm","s":"10⁻² M","t":221,"v":0.30},{"n":"110 nm","s":"10⁻² M","t":233,"v":0.31},{"n":"110 nm","s":"10⁻² M","t":245,"v":0.30},{"n":"110 nm","s":"10⁻² M","t":257,"v":0.32},{"n":"110 nm","s":"10⁻² M","t":269,"v":0.33},{"n":"110 nm","s":"10⁻² M","t":281,"v":0.34},{"n":"110 nm","s":"10⁻² M","t":293,"v":0.35},{"n":"110 nm","s":"10⁻² M","t":305,"v":0.34},
{"n":"110 nm","s":"10⁻⁶ M","t":5,"v":0.14},{"n":"110 nm","s":"10⁻⁶ M","t":20,"v":0.12},{"n":"110 nm","s":"10⁻⁶ M","t":35,"v":0.15},{"n":"110 nm","s":"10⁻⁶ M","t":50,"v":0.16},{"n":"110 nm","s":"10⁻⁶ M","t":65,"v":0.18},{"n":"110 nm","s":"10⁻⁶ M","t":80,"v":0.19},{"n":"110 nm","s":"10⁻⁶ M","t":95,"v":0.20},{"n":"110 nm","s":"10⁻⁶ M","t":110,"v":0.21},{"n":"110 nm","s":"10⁻⁶ M","t":125,"v":0.20},{"n":"110 nm","s":"10⁻⁶ M","t":140,"v":0.23},{"n":"110 nm","s":"10⁻⁶ M","t":155,"v":0.22},{"n":"110 nm","s":"10⁻⁶ M","t":170,"v":0.24},{"n":"110 nm","s":"10⁻⁶ M","t":185,"v":0.23},{"n":"110 nm","s":"10⁻⁶ M","t":200,"v":0.25},{"n":"110 nm","s":"10⁻⁶ M","t":215,"v":0.26},{"n":"110 nm","s":"10⁻⁶ M","t":230,"v":0.27},{"n":"110 nm","s":"10⁻⁶ M","t":245,"v":0.26},{"n":"110 nm","s":"10⁻⁶ M","t":260,"v":0.28},{"n":"110 nm","s":"10⁻⁶ M","t":275,"v":0.29},{"n":"110 nm","s":"10⁻⁶ M","t":290,"v":0.30},{"n":"110 nm","s":"10⁻⁶ M","t":305,"v":0.31},{"n":"110 nm","s":"10⁻⁶ M","t":320,"v":0.32},
{"n":"110 nm","s":"10⁻¹ M","t":5,"v":0.07},{"n":"110 nm","s":"10⁻¹ M","t":17,"v":0.14},{"n":"110 nm","s":"10⁻¹ M","t":29,"v":0.16},{"n":"110 nm","s":"10⁻¹ M","t":41,"v":0.17},{"n":"110 nm","s":"10⁻¹ M","t":53,"v":0.19},{"n":"110 nm","s":"10⁻¹ M","t":65,"v":0.20},{"n":"110 nm","s":"10⁻¹ M","t":77,"v":0.21},{"n":"110 nm","s":"10⁻¹ M","t":89,"v":0.23},{"n":"110 nm","s":"10⁻¹ M","t":101,"v":0.22},{"n":"110 nm","s":"10⁻¹ M","t":113,"v":0.24},{"n":"110 nm","s":"10⁻¹ M","t":125,"v":0.25},{"n":"110 nm","s":"10⁻¹ M","t":137,"v":0.26},{"n":"110 nm","s":"10⁻¹ M","t":149,"v":0.27},{"n":"110 nm","s":"10⁻¹ M","t":161,"v":0.26},{"n":"110 nm","s":"10⁻¹ M","t":173,"v":0.28},{"n":"110 nm","s":"10⁻¹ M","t":185,"v":0.29},{"n":"110 nm","s":"10⁻¹ M","t":197,"v":0.30},{"n":"110 nm","s":"10⁻¹ M","t":209,"v":0.31},{"n":"110 nm","s":"10⁻¹ M","t":221,"v":0.32},{"n":"110 nm","s":"10⁻¹ M","t":233,"v":0.31},{"n":"110 nm","s":"10⁻¹ M","t":245,"v":0.33},{"n":"110 nm","s":"10⁻¹ M","t":257,"v":0.34},{"n":"110 nm","s":"10⁻¹ M","t":269,"v":0.35},{"n":"110 nm","s":"10⁻¹ M","t":281,"v":0.36},{"n":"110 nm","s":"10⁻¹ M","t":293,"v":0.35},{"n":"110 nm","s":"10⁻¹ M","t":305,"v":0.34},
{"n":"110 nm","s":"DI","t":5,"v":0.12},{"n":"110 nm","s":"DI","t":12,"v":0.15},{"n":"110 nm","s":"DI","t":20,"v":0.11},{"n":"110 nm","s":"DI","t":30,"v":0.13},{"n":"110 nm","s":"DI","t":45,"v":0.14},{"n":"110 nm","s":"DI","t":60,"v":0.15},{"n":"110 nm","s":"DI","t":75,"v":0.17},{"n":"110 nm","s":"DI","t":90,"v":0.16},{"n":"110 nm","s":"DI","t":105,"v":0.18},{"n":"110 nm","s":"DI","t":120,"v":0.20},{"n":"110 nm","s":"DI","t":135,"v":0.19},{"n":"110 nm","s":"DI","t":150,"v":0.17},{"n":"110 nm","s":"DI","t":165,"v":0.22},{"n":"110 nm","s":"DI","t":180,"v":0.21},{"n":"110 nm","s":"DI","t":195,"v":0.23},{"n":"110 nm","s":"DI","t":210,"v":0.22},{"n":"110 nm","s":"DI","t":225,"v":0.24},{"n":"110 nm","s":"DI","t":240,"v":0.25},{"n":"110 nm","s":"DI","t":255,"v":0.26},{"n":"110 nm","s":"DI","t":270,"v":0.25},{"n":"110 nm","s":"DI","t":285,"v":0.27},{"n":"110 nm","s":"DI","t":300,"v":0.29},{"n":"110 nm","s":"DI","t":315,"v":0.30},{"n":"110 nm","s":"DI","t":330,"v":0.29},
{"n":"110 nm","s":"1 M","t":5,"v":0.08},{"n":"110 nm","s":"1 M","t":10,"v":0.04},{"n":"110 nm","s":"1 M","t":17,"v":0.13},{"n":"110 nm","s":"1 M","t":29,"v":0.16},{"n":"110 nm","s":"1 M","t":41,"v":0.17},{"n":"110 nm","s":"1 M","t":53,"v":0.19},{"n":"110 nm","s":"1 M","t":65,"v":0.20},{"n":"110 nm","s":"1 M","t":77,"v":0.19},{"n":"110 nm","s":"1 M","t":89,"v":0.21},{"n":"110 nm","s":"1 M","t":101,"v":0.22},{"n":"110 nm","s":"1 M","t":113,"v":0.23},{"n":"110 nm","s":"1 M","t":125,"v":0.22},{"n":"110 nm","s":"1 M","t":137,"v":0.25},{"n":"110 nm","s":"1 M","t":149,"v":0.26},{"n":"110 nm","s":"1 M","t":161,"v":0.25},{"n":"110 nm","s":"1 M","t":173,"v":0.27},{"n":"110 nm","s":"1 M","t":185,"v":0.28},{"n":"110 nm","s":"1 M","t":197,"v":0.29},{"n":"110 nm","s":"1 M","t":209,"v":0.30},{"n":"110 nm","s":"1 M","t":221,"v":0.31},{"n":"110 nm","s":"1 M","t":233,"v":0.32},{"n":"110 nm","s":"1 M","t":245,"v":0.33},{"n":"110 nm","s":"1 M","t":257,"v":0.34},{"n":"110 nm","s":"1 M","t":269,"v":0.36},{"n":"110 nm","s":"1 M","t":281,"v":0.37},{"n":"110 nm","s":"1 M","t":293,"v":0.35},{"n":"110 nm","s":"1 M","t":305,"v":0.34}
],
"acc":[
{"s":"C₆","c":0.000001,"a":1.78,"e":0.24},{"s":"C₆","c":0.00001,"a":1.95,"e":0.25},{"s":"C₆","c":0.0001,"a":1.89,"e":0.20},{"s":"C₆","c":0.001,"a":2.17,"e":0.29},{"s":"C₆","c":0.01,"a":2.99,"e":0.33},{"s":"C₆","c":0.1,"a":3.31,"e":0.29},{"s":"C₆","c":1,"a":3.17,"e":0.36},
{"s":"C₁₀","c":0.000001,"a":2.88,"e":0.43},{"s":"C₁₀","c":0.00001,"a":2.74,"e":0.37},{"s":"C₁₀","c":0.0001,"a":2.95,"e":0.35},{"s":"C₁₀","c":0.001,"a":3.36,"e":0.41},{"s":"C₁₀","c":0.01,"a":3.90,"e":0.42},{"s":"C₁₀","c":0.1,"a":3.94,"e":0.41},{"s":"C₁₀","c":1,"a":3.61,"e":0.46},
{"s":"C₁₄","c":0.000001,"a":2.50,"e":0.19},{"s":"C₁₄","c":0.00001,"a":2.60,"e":0.22},{"s":"C₁₄","c":0.0001,"a":2.50,"e":0.22},{"s":"C₁₄","c":0.001,"a":2.99,"e":0.20},{"s":"C₁₄","c":0.01,"a":3.33,"e":0.22},{"s":"C₁₄","c":0.1,"a":3.12,"e":0.21},{"s":"C₁₄","c":1,"a":3.26,"e":0.20},
{"s":"C₁₈","c":0.000001,"a":2.84,"e":0.15},{"s":"C₁₈","c":0.00001,"a":2.84,"e":0.16},{"s":"C₁₈","c":0.0001,"a":2.73,"e":0.14},{"s":"C₁₈","c":0.001,"a":3.26,"e":0.20},{"s":"C₁₈","c":0.01,"a":3.27,"e":0.20},{"s":"C₁₈","c":0.1,"a":3.28,"e":0.17},{"s":"C₁₈","c":1,"a":3.35,"e":0.17}
]},
"vconcat":[
{
"data":{"name":"vel"},
"title":{"text":"a","anchor":"start","frame":"group","dx":-67,"offset":-19,"fontSize":17,"fontWeight":"bold","color":"#000"},
"columns":2,"spacing":0,"bounds":"flush",
"concat":[
{
"width":154,"height":195,
"transform":[{"filter":"datum.n == '3 nm'"}],
"resolve":{"scale":{"shape":"independent","fill":"independent","stroke":"independent"}},
"encoding":{
"x":{"field":"t","type":"quantitative","scale":{"domain":[-50,380],"nice":false,"zero":false},"axis":{"title":null,"labels":false,"values":[0,50,100,150,200,250,300,350],"tickSize":{"condition":{"test":"datum.value % 100 != 0","value":3},"value":5}}},
"y":{"field":"v","type":"quantitative","scale":{"domain":[0,0.65],"nice":false,"zero":false},"axis":{"title":"Velocity (m/s)","values":[0,0.1,0.2,0.3,0.4,0.5,0.6],"labelExpr":"round(datum.value*10) % 2 == 0 ? format(datum.value,'.1f') : ''","tickSize":{"condition":{"test":"round(datum.value*10) % 2 == 1","value":3},"value":5},"labelPadding":3,"titlePadding":8}},
"color":{"field":"s","type":"nominal","scale":{"domain":["DI","10⁻⁶ M","10⁻⁵ M","10⁻⁴ M","10⁻³ M","10⁻² M","10⁻¹ M","1 M"],"range":["#1a1aff","#5c5cff","#9a9aff","#cfcfff","#ffd2d2","#ffa3a3","#ff6b6b","#ff1f1f"]},"legend":null}
},
"layer":[
{"mark":{"type":"line","strokeWidth":0.8,"opacity":0.6}},
{"mark":{"type":"point","filled":true,"size":14,"opacity":1,"strokeWidth":0},"encoding":{"shape":{"field":"s","type":"nominal","scale":{"domain":["DI","10⁻⁶ M","10⁻⁵ M","10⁻⁴ M","10⁻³ M","10⁻² M","10⁻¹ M","1 M"],"range":["square","circle","triangle-up","triangle-down","diamond","triangle-left","triangle-right","circle"]},"legend":null}}},
{"transform":[{"filter":"datum.s == 'DI' && datum.t == 5"}],"mark":{"type":"text","align":"left","baseline":"middle","fontSize":14},"encoding":{"x":{"datum":-28,"type":"quantitative"},"y":{"datum":0.59,"type":"quantitative"},"text":{"field":"n"},"color":{"value":"#000"}}},
{"transform":[{"filter":"false"}],"mark":{"type":"point","opacity":1,"strokeWidth":1},
"encoding":{
"fill":{"field":"s","type":"nominal","scale":{"domain":["DI","10⁻⁶ M","10⁻⁵ M","10⁻⁴ M","10⁻³ M","10⁻² M","10⁻¹ M","1 M"],"range":["#1a1aff","#5c5cff","#9a9aff","#cfcfff","#ffd2d2","#ffa3a3","#ff6b6b","#ff1f1f"]},"legend":{"orient":"none","legendX":-23,"legendY":-41,"direction":"horizontal","columns":4,"gridAlign":"all","title":null,"symbolSize":256,"symbolStrokeWidth":1,"labelOffset":13,"labelFontSize":13,"columnPadding":10,"rowPadding":3}},
"stroke":{"field":"s","type":"nominal","scale":{"domain":["DI","10⁻⁶ M","10⁻⁵ M","10⁻⁴ M","10⁻³ M","10⁻² M","10⁻¹ M","1 M"],"range":["#1a1aff","#5c5cff","#9a9aff","#cfcfff","#ffd2d2","#ffa3a3","#ff6b6b","#ff1f1f"]},"legend":{"orient":"none","legendX":-23,"legendY":-41,"direction":"horizontal","columns":4,"gridAlign":"all","title":null,"symbolSize":256,"symbolStrokeWidth":1,"labelOffset":13,"labelFontSize":13,"columnPadding":10,"rowPadding":3}},
"shape":{"field":"s","type":"nominal","scale":{"domain":["DI","10⁻⁶ M","10⁻⁵ M","10⁻⁴ M","10⁻³ M","10⁻² M","10⁻¹ M","1 M"],"range":["M-2,0H2M-0.3,-0.3H0.3V0.3H-0.3Z","M-2,0H2M-0.34,0A0.34,0.34,0,1,0,0.34,0A0.34,0.34,0,1,0,-0.34,0Z","M-2,0H2M0,-0.4L0.4,0.28L-0.4,0.28Z","M-2,0H2M0,0.4L0.4,-0.28L-0.4,-0.28Z","M-2,0H2M0,-0.4L0.4,0L0,0.4L-0.4,0Z","M-2,0H2M-0.4,0L0.28,-0.4L0.28,0.4Z","M-2,0H2M0.4,0L-0.28,-0.4L-0.28,0.4Z","M-2,0H2M-0.34,0A0.34,0.34,0,1,0,0.34,0A0.34,0.34,0,1,0,-0.34,0Z"]},"legend":{"orient":"none","legendX":-23,"legendY":-41,"direction":"horizontal","columns":4,"gridAlign":"all","title":null,"symbolSize":256,"symbolStrokeWidth":1,"labelOffset":13,"labelFontSize":13,"columnPadding":10,"rowPadding":3}}
}}
]
},
{
"width":154,"height":195,
"transform":[{"filter":"datum.n == '10 nm'"}],
"encoding":{
"x":{"field":"t","type":"quantitative","scale":{"domain":[-50,380],"nice":false,"zero":false},"axis":{"title":null,"labels":false,"values":[0,50,100,150,200,250,300,350],"tickSize":{"condition":{"test":"datum.value % 100 != 0","value":3},"value":5}}},
"y":{"field":"v","type":"quantitative","scale":{"domain":[0,0.65],"nice":false,"zero":false},"axis":{"title":null,"labels":false,"values":[0,0.1,0.2,0.3,0.4,0.5,0.6],"tickSize":{"condition":{"test":"round(datum.value*10) % 2 == 1","value":3},"value":5}}},
"color":{"field":"s","type":"nominal","scale":{"domain":["DI","10⁻⁶ M","10⁻⁵ M","10⁻⁴ M","10⁻³ M","10⁻² M","10⁻¹ M","1 M"],"range":["#1a1aff","#5c5cff","#9a9aff","#cfcfff","#ffd2d2","#ffa3a3","#ff6b6b","#ff1f1f"]},"legend":null}
},
"layer":[
{"mark":{"type":"line","strokeWidth":0.8,"opacity":0.6}},
{"mark":{"type":"point","filled":true,"size":14,"opacity":1,"strokeWidth":0},"encoding":{"shape":{"field":"s","type":"nominal","scale":{"domain":["DI","10⁻⁶ M","10⁻⁵ M","10⁻⁴ M","10⁻³ M","10⁻² M","10⁻¹ M","1 M"],"range":["square","circle","triangle-up","triangle-down","diamond","triangle-left","triangle-right","circle"]},"legend":null}}},
{"transform":[{"filter":"datum.s == 'DI' && datum.t == 5"}],"mark":{"type":"text","align":"left","baseline":"middle","fontSize":14},"encoding":{"x":{"datum":-28,"type":"quantitative"},"y":{"datum":0.59,"type":"quantitative"},"text":{"field":"n"},"color":{"value":"#000"}}}
]
},
{
"width":154,"height":195,
"transform":[{"filter":"datum.n == '45 nm'"}],
"encoding":{
"x":{"field":"t","type":"quantitative","scale":{"domain":[-50,380],"nice":false,"zero":false},"axis":{"title":"Time (ms)","values":[0,50,100,150,200,250,300,350],"labelExpr":"datum.value % 100 == 0 ? datum.label : ''","tickSize":{"condition":{"test":"datum.value % 100 != 0","value":3},"value":5},"labelPadding":1,"titlePadding":4}},
"y":{"field":"v","type":"quantitative","scale":{"domain":[0,0.65],"nice":false,"zero":false},"axis":{"title":"Velocity (m/s)","values":[0,0.1,0.2,0.3,0.4,0.5,0.6],"labelExpr":"round(datum.value*10) % 2 == 0 ? format(datum.value,'.1f') : ''","tickSize":{"condition":{"test":"round(datum.value*10) % 2 == 1","value":3},"value":5},"labelPadding":3,"titlePadding":8}},
"color":{"field":"s","type":"nominal","scale":{"domain":["DI","10⁻⁶ M","10⁻⁵ M","10⁻⁴ M","10⁻³ M","10⁻² M","10⁻¹ M","1 M"],"range":["#1a1aff","#5c5cff","#9a9aff","#cfcfff","#ffd2d2","#ffa3a3","#ff6b6b","#ff1f1f"]},"legend":null}
},
"layer":[
{"mark":{"type":"line","strokeWidth":0.8,"opacity":0.6}},
{"mark":{"type":"point","filled":true,"size":14,"opacity":1,"strokeWidth":0},"encoding":{"shape":{"field":"s","type":"nominal","scale":{"domain":["DI","10⁻⁶ M","10⁻⁵ M","10⁻⁴ M","10⁻³ M","10⁻² M","10⁻¹ M","1 M"],"range":["square","circle","triangle-up","triangle-down","diamond","triangle-left","triangle-right","circle"]},"legend":null}}},
{"transform":[{"filter":"datum.s == 'DI' && datum.t == 5"}],"mark":{"type":"text","align":"left","baseline":"middle","fontSize":14},"encoding":{"x":{"datum":-28,"type":"quantitative"},"y":{"datum":0.59,"type":"quantitative"},"text":{"field":"n"},"color":{"value":"#000"}}}
]
},
{
"width":154,"height":195,
"transform":[{"filter":"datum.n == '110 nm'"}],
"encoding":{
"x":{"field":"t","type":"quantitative","scale":{"domain":[-50,380],"nice":false,"zero":false},"axis":{"title":"Time (ms)","values":[0,50,100,150,200,250,300,350],"labelExpr":"datum.value % 100 == 0 ? datum.label : ''","tickSize":{"condition":{"test":"datum.value % 100 != 0","value":3},"value":5},"labelPadding":1,"titlePadding":4}},
"y":{"field":"v","type":"quantitative","scale":{"domain":[0,0.65],"nice":false,"zero":false},"axis":{"title":null,"labels":false,"values":[0,0.1,0.2,0.3,0.4,0.5,0.6],"tickSize":{"condition":{"test":"round(datum.value*10) % 2 == 1","value":3},"value":5}}},
"color":{"field":"s","type":"nominal","scale":{"domain":["DI","10⁻⁶ M","10⁻⁵ M","10⁻⁴ M","10⁻³ M","10⁻² M","10⁻¹ M","1 M"],"range":["#1a1aff","#5c5cff","#9a9aff","#cfcfff","#ffd2d2","#ffa3a3","#ff6b6b","#ff1f1f"]},"legend":null}
},
"layer":[
{"mark":{"type":"line","strokeWidth":0.8,"opacity":0.6}},
{"mark":{"type":"point","filled":true,"size":14,"opacity":1,"strokeWidth":0},"encoding":{"shape":{"field":"s","type":"nominal","scale":{"domain":["DI","10⁻⁶ M","10⁻⁵ M","10⁻⁴ M","10⁻³ M","10⁻² M","10⁻¹ M","1 M"],"range":["square","circle","triangle-up","triangle-down","diamond","triangle-left","triangle-right","circle"]},"legend":null}}},
{"transform":[{"filter":"datum.s == 'DI' && datum.t == 5"}],"mark":{"type":"text","align":"left","baseline":"middle","fontSize":14},"encoding":{"x":{"datum":-28,"type":"quantitative"},"y":{"datum":0.59,"type":"quantitative"},"text":{"field":"n"},"color":{"value":"#000"}}}
]
}
]
},
{
"data":{"name":"acc"},
"width":307,"height":246,
"title":{"text":"b","anchor":"start","frame":"group","dx":-67,"offset":-4,"fontSize":17,"fontWeight":"bold","color":"#000"},
"resolve":{"scale":{"shape":"independent","fill":"independent","stroke":"independent"}},
"encoding":{
"x":{"field":"c","type":"quantitative","scale":{"type":"log","domain":[0.00000027,3.0],"nice":false},
"axis":{"title":"Concentration (M)","values":[0.000001,0.00001,0.0001,0.001,0.01,0.1,1],"labelExpr":"datum.value > 0.5 ? '1' : '10' + ['⁻⁶','⁻⁵','⁻⁴','⁻³','⁻²','⁻¹'][round(log(datum.value)/LN10) + 6]","labelPadding":4,"titlePadding":6}},
"y":{"field":"a","type":"quantitative","scale":{"domain":[1.2,4.5],"nice":false,"zero":false},
"axis":{"title":"Acceleration (m/s²)","values":[1.2,1.5,1.8,2.1,2.4,2.7,3.0,3.3,3.6,3.9,4.2,4.5],"labelExpr":"round(datum.value*10/3) % 2 == 0 ? format(datum.value,'.1f') : ''","tickSize":{"condition":{"test":"round(datum.value*10/3) % 2 == 1","value":3},"value":5},"labelPadding":3,"titlePadding":8}},
"color":{"field":"s","type":"nominal","scale":{"domain":["C₆","C₁₀","C₁₄","C₁₈"],"range":["#5a5a5a","#f03a3a","#1f66e5","#22a050"]},"legend":null}
},
"layer":[
{"mark":{"type":"errorbar","ticks":{"size":7},"opacity":0.45,"thickness":1},"encoding":{"yError":{"field":"e"}}},
{"mark":{"type":"line","strokeWidth":1,"opacity":0.45}},
{"mark":{"type":"point","filled":true,"size":60,"opacity":1,"strokeWidth":0},
"encoding":{"shape":{"field":"s","type":"nominal","scale":{"domain":["C₆","C₁₀","C₁₄","C₁₈"],"range":["square","circle","triangle-up","triangle-down"]},"legend":null}}},
{"transform":[{"filter":"false"}],"mark":{"type":"point","opacity":1,"strokeWidth":1},
"encoding":{
"fill":{"field":"s","type":"nominal","scale":{"domain":["C₆","C₁₀","C₁₄","C₁₈"],"range":["#5a5a5a","#f03a3a","#1f66e5","#22a050"]},"legend":{"orient":"none","legendX":234,"legendY":150,"title":null,"direction":"vertical","symbolSize":256,"symbolStrokeWidth":1,"labelOffset":13,"labelFontSize":15,"rowPadding":5}},
"stroke":{"field":"s","type":"nominal","scale":{"domain":["C₆","C₁₀","C₁₄","C₁₈"],"range":["#a8a8a8","#f7a0a0","#8db0ef","#92d0a6"]},"legend":{"orient":"none","legendX":234,"legendY":150,"title":null,"direction":"vertical","symbolSize":256,"symbolStrokeWidth":1,"labelOffset":13,"labelFontSize":15,"rowPadding":5}},
"shape":{"field":"s","type":"nominal","scale":{"domain":["C₆","C₁₀","C₁₄","C₁₈"],"range":["M-2,0H2M-0.5,-0.5H0.5V0.5H-0.5Z","M-2,0H2M-0.55,0A0.55,0.55,0,1,0,0.55,0A0.55,0.55,0,1,0,-0.55,0Z","M-2,0H2M0,-0.6L0.6,0.45L-0.6,0.45Z","M-2,0H2M0,0.6L0.6,-0.45L-0.6,-0.45Z"]},"legend":{"orient":"none","legendX":234,"legendY":150,"title":null,"direction":"vertical","symbolSize":256,"symbolStrokeWidth":1,"labelOffset":13,"labelFontSize":15,"rowPadding":5}}
}}
]
}
]
}
